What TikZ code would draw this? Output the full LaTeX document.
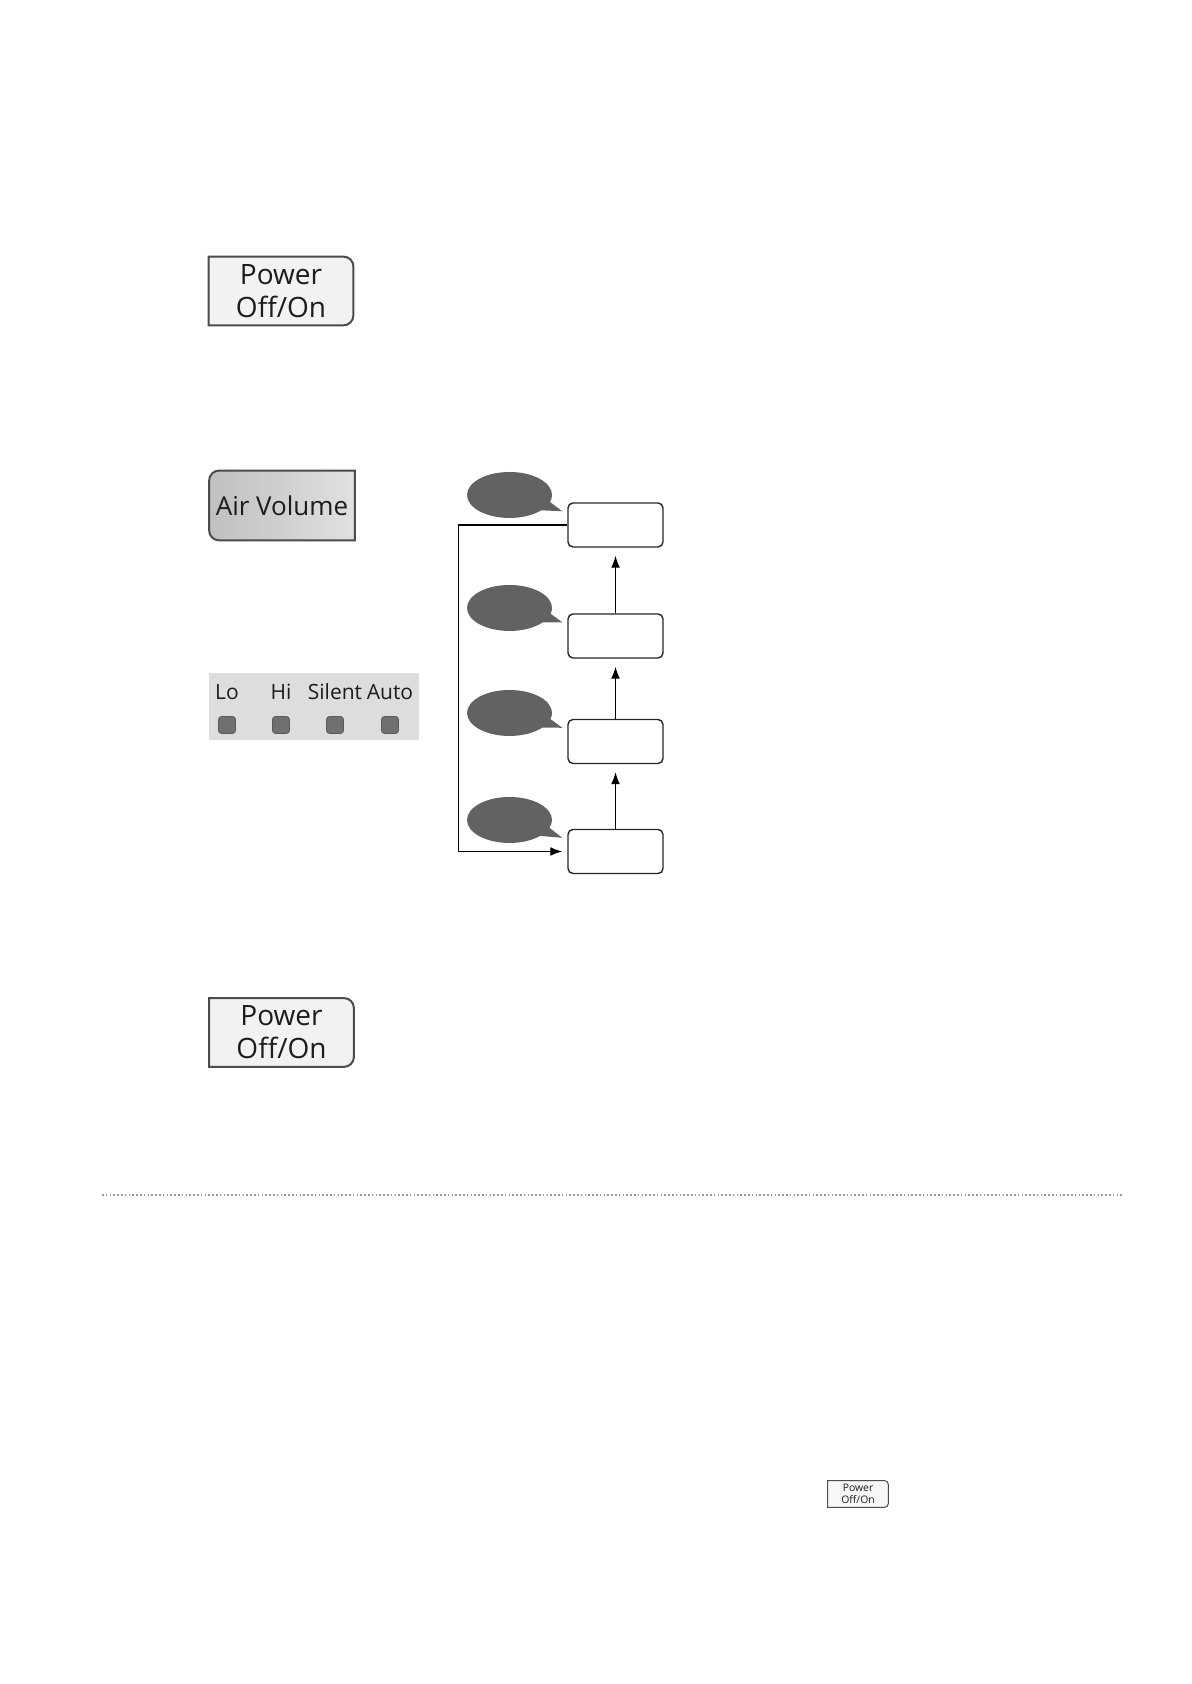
\documentclass[tikz,border=0pt]{standalone}
\usepackage{fontspec}
\setmainfont{Open Sans}
\usetikzlibrary{arrows.meta, shapes.callouts, positioning, calc}
\definecolor{PanelGrey}{RGB}{221,221,221}
\definecolor{LedGrey}{RGB}{112,112,112}
\definecolor{BubbleGrey}{RGB}{98,98,98}
\definecolor{EdgeGrey}{RGB}{75,75,75}
\definecolor{TextDark}{RGB}{28,28,28}
\pgfdeclarelayer{background}
\pgfsetlayers{background,main}

\begin{document}
\begin{tikzpicture}[x=0.5pt, y=0.5pt,
    btntext/.style={align=center, text=TextDark, inner sep=0pt},
    btnedge/.style={draw=EdgeGrey, line width=1pt},
    lvlbox/.style={draw=black!85, rounded corners=2.5pt, line width=0.7pt,
                   minimum width=47.5pt, minimum height=22pt, inner sep=0pt},
    tipbubble/.style={ellipse callout, fill=BubbleGrey, inner sep=0pt,
                      minimum width=42.5pt, minimum height=23pt, callout pointer arc=24},
    flowarrow/.style={-{Latex[length=6pt,width=4.4pt]}, line width=0.6pt},
    ledlamp/.style={fill=LedGrey, draw=LedGrey!80!black, line width=0.4pt,
                    rounded corners=1.5pt, minimum size=8.5pt, inner sep=0pt},
    ledlabel/.style={text=TextDark, inner sep=0pt, font=\fontsize{10.5}{12}\selectfont}]
  \useasboundingbox (0,0) rectangle (1191,1684);

  % power button, top
  \node[btntext, minimum width=72pt, minimum height=34pt,
        font=\fontsize{14}{16.5}\selectfont] (pwrTop) at (281,1393) {Power\\Off/On};
  \begin{pgfonlayer}{background}
    \draw[btnedge, fill=black!5] (pwrTop.south west) -- (pwrTop.north west)
      -- ([xshift=-5pt]pwrTop.north east) arc[start angle=90, end angle=0, radius=5pt]
      -- ([yshift=5pt]pwrTop.south east) arc[start angle=0, end angle=-90, radius=5pt]
      -- cycle;
  \end{pgfonlayer}

  % air volume button
  \node[btntext, minimum width=72.5pt, minimum height=34.5pt,
        font=\fontsize{13}{15}\selectfont] (airVol) at (282,1178.5) {Air Volume};
  \begin{pgfonlayer}{background}
    \draw[btnedge, left color=black!25, right color=black!12] (airVol.north east)
      -- ([xshift=5pt]airVol.north west) arc[start angle=90, end angle=180, radius=5pt]
      -- ([yshift=5pt]airVol.south west) arc[start angle=180, end angle=270, radius=5pt]
      -- (airVol.south east) -- cycle;
  \end{pgfonlayer}

  % indicator panel
  \node[fill=PanelGrey, minimum width=105pt, minimum height=33.5pt, inner sep=0pt]
        (ledPanel) at (314,977.5) {};
  \foreach \nm/\x/\txt in {Lo/227/Lo, Hi/281/Hi, Silent/335/Silent, Auto/390/Auto} {
    \node[ledlabel] (lbl\nm) at (\x,992) {\txt};
    \node[ledlamp] (led\nm) at (\x,959) {};
  }

  % air volume cycle
  \node[lvlbox] (lvl1) at (615.5,1159) {};
  \node[lvlbox] (lvl2) at (615.5,1048) {};
  \node[lvlbox] (lvl3) at (615.5,942.5) {};
  \node[lvlbox] (lvl4) at (615.5,832.5) {};
  \foreach \i/\y in {1/1189, 2/1076, 3/971, 4/864}
    \node[tipbubble, callout absolute pointer={($(lvl\i.north west)+(-5,-9)$)}]
          (tip\i) at (509.5,\y) {};
  \draw[flowarrow, shorten >=4pt] (lvl4.north) -- (lvl3.south);
  \draw[flowarrow, shorten >=4pt] (lvl3.north) -- (lvl2.south);
  \draw[flowarrow, shorten >=4pt] (lvl2.north) -- (lvl1.south);
  \draw[flowarrow, shorten >=2.5pt] (lvl1.west) -- ++(-109,0) |- (lvl4.west);

  % power button, bottom
  \node[btntext, minimum width=72pt, minimum height=34pt,
        font=\fontsize{14}{16.5}\selectfont] (pwrBot) at (281.5,651.5) {Power\\Off/On};
  \begin{pgfonlayer}{background}
    \draw[btnedge, fill=black!5] (pwrBot.south west) -- (pwrBot.north west)
      -- ([xshift=-5pt]pwrBot.north east) arc[start angle=90, end angle=0, radius=5pt]
      -- ([yshift=5pt]pwrBot.south east) arc[start angle=0, end angle=-90, radius=5pt]
      -- cycle;
  \end{pgfonlayer}

  % separator
  \draw[black!40, line width=1pt, dash pattern=on 0.8pt off 1.1pt] (102,489) -- (1122,489);

  % small power button
  \node[btntext, minimum width=30pt, minimum height=13pt,
        font=\fontsize{5.2}{6}\selectfont] (pwrSmall) at (858,190) {Power\\Off/On};
  \begin{pgfonlayer}{background}
    \draw[draw=EdgeGrey, line width=0.5pt, fill=black!3] (pwrSmall.south west) -- (pwrSmall.north west)
      -- ([xshift=-2pt]pwrSmall.north east) arc[start angle=90, end angle=0, radius=2pt]
      -- ([yshift=2pt]pwrSmall.south east) arc[start angle=0, end angle=-90, radius=2pt]
      -- cycle;
  \end{pgfonlayer}
\end{tikzpicture}
\end{document}
